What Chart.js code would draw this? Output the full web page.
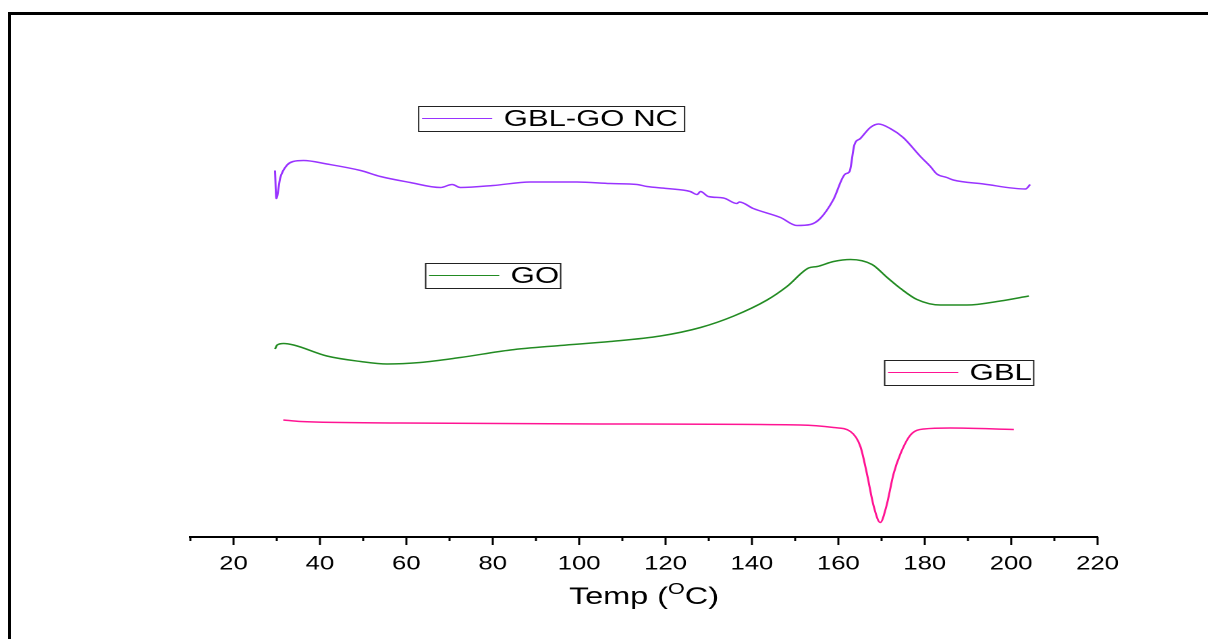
<!DOCTYPE html>
<html>
<head>
<meta charset="utf-8">
<script src="https://cdn.jsdelivr.net/npm/chart.js@4.4.0/dist/chart.umd.min.js"></script>
<style>
  html, body { margin: 0; padding: 0; background: #fff; overflow: hidden; }
  #frame { position: absolute; left: 8px; top: 12px; width: 1200px; height: 640px;
           border-left: 3px solid #000; border-top: 3px solid #000; }
  #wrap { position: absolute; left: 0; top: 0; width: 895px; height: 639px;
          transform: scaleX(1.35); transform-origin: 0 0; }
</style>
</head>
<body>
<div id="frame"></div>
<div id="wrap"><canvas id="dscChart" width="895" height="639"></canvas></div>
<script>
// DSC curves (y is arbitrary heat flow, offset per curve)
var gblgoTemp = [29.6, 29.9, 30.8, 32.4, 33.8, 36.2, 41.6, 49.4, 54.0, 60.9, 67.9, 70.6, 72.5, 80.1, 88.7,
                 99.5, 107.2, 113.4, 115.7, 120.3, 125.7, 127.3, 128.1, 129.9, 133.4, 136.5, 137.1, 140.3,
                 146.6, 150.4, 153.5, 155.8, 158.8, 161.6, 162.6, 163.7, 165.1, 167.4, 169.3, 172.0, 175.0,
                 179.0, 181.3, 182.8, 185.1, 186.6, 193.6, 203.3, 204.4];
var gblgoHeat = [73.3, 67.7, 71.8, 74.4, 75.1, 75.3, 74.6, 73.3, 72.1, 70.9, 69.9, 70.5, 69.9, 70.3, 71.0,
                 71.0, 70.7, 70.5, 70.1, 69.7, 69.1, 68.5, 69.1, 68.1, 67.8, 66.7, 67.0, 65.7,
                 63.9, 62.3, 62.5, 63.7, 67.4, 72.6, 73.1, 78.4, 79.7, 81.9, 82.6, 81.7, 79.9,
                 76.1, 74.1, 72.6, 71.9, 71.4, 70.6, 69.6, 70.5];

var goTemp = [29.6, 30.1, 31.6, 33.9, 41.6, 49.4, 55.5, 63.2, 72.5, 84.1, 95.6, 107.2, 118.8, 128.1, 135.8,
              143.5, 148.1, 153.1, 155.1, 158.9, 162.8, 167.8, 171.3, 174.4, 178.2, 183.6, 189.8, 197.5, 204.1];
var goHeat = [37.6, 38.4, 38.7, 38.4, 36.2, 35.1, 34.6, 34.9, 35.9, 37.4, 38.3, 39.1, 40.2, 41.9, 44.2,
              47.4, 50.1, 53.8, 54.1, 55.1, 55.5, 54.5, 51.9, 49.7, 47.5, 46.4, 46.4, 47.2, 48.2];

var gblTemp = [31.5, 35.5, 58.6, 104.9, 151.2, 158.9, 162.8, 165.1, 166.6, 168.2, 169.7, 171.1, 172.8,
               174.4, 176.7, 179.8, 185.9, 200.6];
var gblHeat = [23.4, 23.1, 22.8, 22.6, 22.4, 21.9, 21.1, 18.1, 12.7, 6.1, 2.9, 6.1, 12.7,
               16.7, 20.4, 21.6, 21.8, 21.5];

var seriesNames = ['GBL-GO NC', 'GO', 'GBL'];
var seriesColors = ['#9933ff', '#228b22', '#ff1493'];
var xTicks = [20, 40, 60, 80, 100, 120, 140, 160, 180, 200, 220];

var fontFamily = '"Liberation Sans", Arial, sans-serif';

function pairs(xs, ys) {
    return xs.map(function (t, i) { return {x: t, y: ys[i]}; });
}

// ticks, axis title and the three boxed legends
var dscExtras = {
    id: 'dscExtras',
    afterDraw: function (chart, args, opts) {
        var ctx = chart.ctx;
        var xs = chart.scales.x;
        ctx.save();
        ctx.strokeStyle = '#000';
        ctx.lineWidth = 1.5;
        for (var v = xs.min; v <= xs.max; v += 10) {
            var px = xs.getPixelForValue(v);
            var len = xTicks.indexOf(v) >= 0 ? 8 : 4;
            ctx.beginPath();
            ctx.moveTo(px, xs.top);
            ctx.lineTo(px, xs.top + len);
            ctx.stroke();
        }

        // Temp (oC) with a raised O
        ctx.fillStyle = '#000';
        ctx.textBaseline = 'alphabetic';
        ctx.font = '24px ' + fontFamily;
        var a = 'Temp (', c = 'C)';
        var wa = ctx.measureText(a).width, wc = ctx.measureText(c).width;
        ctx.font = '16px ' + fontFamily;
        var wo = ctx.measureText('O').width;
        var cx = (chart.chartArea.left + chart.chartArea.right) / 2;
        var x0 = cx - (wa + wo + wc) / 2;
        var base = opts.titleY;
        ctx.font = '24px ' + fontFamily;
        ctx.fillText(a, x0, base);
        ctx.font = '16px ' + fontFamily;
        ctx.fillText('O', x0 + wa, base - 10);
        ctx.font = '24px ' + fontFamily;
        ctx.fillText(c, x0 + wa + wo, base);

        // legend boxes
        opts.boxes.forEach(function (b, i) {
            ctx.lineWidth = 1;
            ctx.strokeStyle = '#222';
            ctx.strokeRect(b.x + 0.5, b.y + 0.5, b.w, b.h);
            var my = b.y + b.h / 2;
            ctx.strokeStyle = seriesColors[i];
            ctx.beginPath();
            ctx.moveTo(b.x + 3, my);
            ctx.lineTo(b.x + 55, my);
            ctx.stroke();
            ctx.fillStyle = '#000';
            ctx.font = '23px ' + fontFamily;
            ctx.textBaseline = 'middle';
            ctx.fillText(seriesNames[i], b.x + 63.5, my + 1);
        });
        ctx.restore();
    }
};

var ctx = document.getElementById('dscChart').getContext('2d');
var dscChart = new Chart(ctx, {
    type: 'line',
    data: {
        datasets: [
            {label: seriesNames[0], data: pairs(gblgoTemp, gblgoHeat), borderColor: seriesColors[0]},
            {label: seriesNames[1], data: pairs(goTemp, goHeat), borderColor: seriesColors[1]},
            {label: seriesNames[2], data: pairs(gblTemp, gblHeat), borderColor: seriesColors[2]}
        ]
    },
    options: {
        responsive: false,
        animation: false,
        devicePixelRatio: 2,
        layout: {padding: {left: 141, right: 82, top: 37, bottom: 67}},
        elements: {
            point: {radius: 0},
            line: {borderWidth: 1.5, cubicInterpolationMode: 'monotone', fill: false}
        },
        plugins: {
            legend: {display: false},
            tooltip: {enabled: false},
            dscExtras: {
                titleY: 604,
                boxes: [
                    {x: 309.6, y: 106, w: 197, h: 25},
                    {x: 314.8, y: 263, w: 100, h: 25},
                    {x: 654.8, y: 360, w: 110.4, h: 25}
                ]
            }
        },
        scales: {
            x: {
                type: 'linear',
                min: 10,
                max: 220,
                grid: {display: false},
                border: {display: true, color: '#000', width: 2},
                ticks: {
                    stepSize: 10,
                    autoSkip: false,
                    maxRotation: 0,
                    padding: 8,
                    color: '#000',
                    font: {family: fontFamily, size: 19},
                    callback: function (v) { return xTicks.indexOf(v) >= 0 ? v : ''; }
                },
                afterFit: function (s) { s.height = 35; }
            },
            y: {display: false, min: 0, max: 100}
        }
    },
    plugins: [dscExtras]
});
</script>
</body>
</html>
